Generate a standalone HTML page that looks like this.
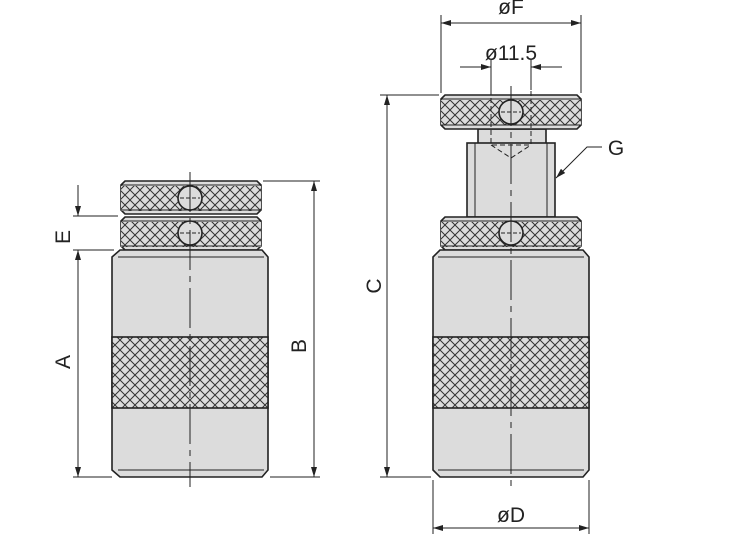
<!DOCTYPE html>
<html><head><style>html,body{margin:0;padding:0;background:#fff}svg{display:block}</style></head>
<body>
<svg width="752" height="549" viewBox="0 0 752 549" xmlns="http://www.w3.org/2000/svg" font-family="Liberation Sans, sans-serif">
<defs>
<pattern id="k" width="10" height="10" patternUnits="userSpaceOnUse">
<rect width="10" height="10" fill="#dcdcdc"/>
<path d="M0 0L10 10M-5 5L5 15M5 -5L15 5M10 0L0 10M-5 5L5 -5M5 15L15 5" stroke="#333" stroke-width="1"/>
</pattern>
<marker id="a" viewBox="0 0 10 6" refX="10" refY="3" markerWidth="14" markerHeight="6" markerUnits="userSpaceOnUse" orient="auto-start-reverse"><path d="M0 0L10 3L0 6z" fill="#222"/></marker>
</defs>
<g stroke="#222" stroke-width="1.6">
<path d="M125 181H257L261 185V210L257 214H125L121 210V185Z" fill="#dcdcdc"/>
<rect x="121" y="186" width="140" height="25" fill="url(#k)" stroke="none"/>
<path d="M125 217H257L261 221V246L257 250H125L121 246V221Z" fill="#dcdcdc"/>
<rect x="121" y="222" width="140" height="25" fill="url(#k)" stroke="none"/>
<path d="M120 250H262L268 257V470L262 477H120L112 470V257Z" fill="#dcdcdc"/>
<rect x="112" y="337" width="156" height="71" fill="url(#k)"/>
<circle cx="190" cy="198" r="12" fill="#dcdcdc"/>
<circle cx="190" cy="233" r="12" fill="#dcdcdc"/>
<rect x="478" y="129" width="68" height="15" fill="#dcdcdc"/>
<rect x="467" y="143" width="88" height="74" fill="#dcdcdc"/>
<line x1="475" y1="143" x2="475" y2="217" stroke-width="1"/>
<line x1="547" y1="143" x2="547" y2="217" stroke-width="1"/>
<path d="M445 95H577L581 99V125L577 129H445L441 125V99Z" fill="#dcdcdc"/>
<rect x="441" y="100" width="140" height="25" fill="url(#k)" stroke="none"/>
<path d="M445 217H577L581 221V246L577 250H445L441 246V221Z" fill="#dcdcdc"/>
<rect x="441" y="222" width="140" height="25" fill="url(#k)" stroke="none"/>
<path d="M440 250H583L589 257V470L583 477H440L433 470V257Z" fill="#dcdcdc"/>
<rect x="433" y="337" width="156" height="71" fill="url(#k)"/>
<circle cx="511" cy="112" r="12" fill="#dcdcdc"/>
<circle cx="511" cy="233" r="12" fill="#dcdcdc"/>
</g>
<g stroke="#222" stroke-width="1" fill="none">
<line x1="121" y1="185" x2="261" y2="185"/><line x1="121" y1="210" x2="261" y2="210"/>
<line x1="121" y1="221" x2="261" y2="221"/><line x1="121" y1="246" x2="261" y2="246"/>
<line x1="118" y1="257" x2="264" y2="257"/><line x1="118" y1="470" x2="264" y2="470"/>
<line x1="441" y1="99" x2="581" y2="99"/><line x1="441" y1="125" x2="581" y2="125"/>
<line x1="441" y1="221" x2="581" y2="221"/><line x1="441" y1="246" x2="581" y2="246"/>
<line x1="438" y1="257" x2="584" y2="257"/><line x1="438" y1="470" x2="584" y2="470"/>
<line x1="190" y1="172" x2="190" y2="487" stroke-dasharray="40,6,6,6"/>
<line x1="511" y1="86" x2="511" y2="487" stroke-dasharray="40,6,6,6"/>
<line x1="180" y1="198" x2="200" y2="198" stroke-dasharray="4,2"/>
<line x1="180" y1="233" x2="200" y2="233" stroke-dasharray="4,2"/>
<line x1="501" y1="112" x2="521" y2="112" stroke-dasharray="4,2"/>
<line x1="501" y1="233" x2="521" y2="233" stroke-dasharray="4,2"/>
<path d="M491 90V145H531V90M491 145L511 158L531 145" stroke-dasharray="5,3"/>
<line x1="73" y1="216" x2="118" y2="216"/><line x1="73" y1="250" x2="114" y2="250"/>
<line x1="73" y1="477" x2="112" y2="477"/>
<line x1="78" y1="185" x2="78" y2="216" marker-end="url(#a)"/>
<line x1="78" y1="477" x2="78" y2="250" marker-start="url(#a)" marker-end="url(#a)"/>
<line x1="263" y1="181" x2="320" y2="181"/><line x1="270" y1="477" x2="320" y2="477"/>
<line x1="314" y1="181" x2="314" y2="477" marker-start="url(#a)" marker-end="url(#a)"/>
<line x1="380" y1="95" x2="439" y2="95"/><line x1="380" y1="477" x2="431" y2="477"/>
<line x1="387" y1="95" x2="387" y2="477" marker-start="url(#a)" marker-end="url(#a)"/>
<line x1="433" y1="480" x2="433" y2="534"/><line x1="589" y1="480" x2="589" y2="534"/>
<line x1="433" y1="528" x2="589" y2="528" marker-start="url(#a)" marker-end="url(#a)"/>
<line x1="441" y1="15" x2="441" y2="93"/><line x1="581" y1="15" x2="581" y2="93"/>
<line x1="441" y1="23" x2="581" y2="23" marker-start="url(#a)" marker-end="url(#a)"/>
<line x1="491" y1="60" x2="491" y2="90"/><line x1="531" y1="60" x2="531" y2="90"/>
<line x1="460" y1="67" x2="491" y2="67" marker-end="url(#a)"/>
<line x1="562" y1="67" x2="531" y2="67" marker-end="url(#a)"/>
<polyline points="602,147 587,147 556,178" marker-end="url(#a)"/>
</g>
<g fill="#222" font-size="21" text-anchor="middle">
<text x="511" y="522">øD</text>
<text x="511" y="14">øF</text>
<text x="511" y="60">ø11.5</text>
<text x="616" y="155">G</text>
<text transform="translate(70,237) rotate(-90)">E</text>
<text transform="translate(70,362) rotate(-90)">A</text>
<text transform="translate(306,346) rotate(-90)">B</text>
<text transform="translate(381,286) rotate(-90)">C</text>
</g>
</svg>
</body></html>
